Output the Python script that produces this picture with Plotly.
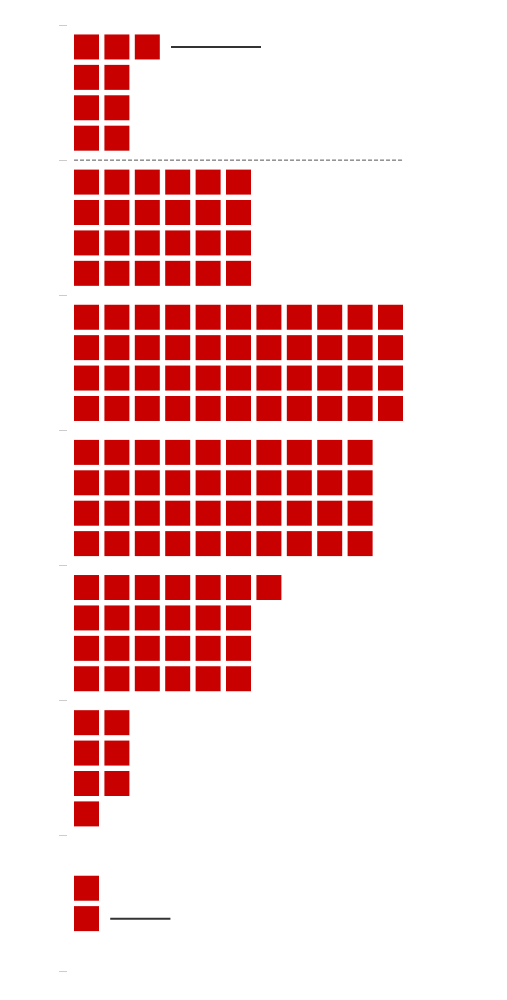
import plotly.graph_objects as go

# one group per band, squares filled column by column (4 per column, top to bottom)
GROUPS = ["g1", "g2", "g3", "g4", "g5", "g6", "g7"]
COUNTS = [9, 24, 44, 40, 25, 7, 2]
START_SLOT = [0, 0, 0, 0, 0, 0, 1]   # last group starts on the second row
ROWS = 4

# leader lines: (group, row, first column after the squares, length in columns)
CALLOUTS = [(0, 0, 3, 2.96), (6, 2, 1, 1.98)]
RED = "#c80000"

xs, ys = [], []
for g, (n, s) in enumerate(zip(COUNTS, START_SLOT)):
    for k in range(s, s + n):
        col, row = divmod(k, ROWS)
        xs.append(col)
        ys.append(g + 0.5 + (row - 1.5) * 0.225)

fig = go.Figure(go.Scatter(
    x=xs, y=ys, mode="markers", hoverinfo="skip",
    marker=dict(symbol="square", size=25, color=RED, line=dict(width=0))))

# dashed separator under the first group, as wide as the widest group
widest = max(-(-n // ROWS) for n in COUNTS)
fig.add_shape(type="line", x0=-0.41, x1=widest - 1 + 0.41, y0=1, y1=1,
              line=dict(color="#555", width=1, dash="4px,2px"))

for g, row, col, length in CALLOUTS:
    y = g + 0.5 + (row - 1.5) * 0.225
    x0 = col - 1 + 0.41 + 0.37
    fig.add_shape(type="line", x0=x0, x1=x0 + length, y0=y, y1=y,
                  line=dict(color="#333", width=2))

fig.update_layout(
    width=507, height=1000, plot_bgcolor="white", paper_bgcolor="white",
    margin=dict(l=60, r=20, t=17, b=37), showlegend=False,
    xaxis=dict(range=[-0.6086, 13.437], visible=False, fixedrange=True),
    yaxis=dict(range=[len(GROUPS), 0], tickvals=list(range(len(GROUPS) + 1)),
               showticklabels=False, ticks="outside", ticklen=8, tickwidth=1,
               tickcolor="#ccc", showgrid=False, zeroline=False, showline=False,
               fixedrange=True),
)

fig.write_html("out.html")
